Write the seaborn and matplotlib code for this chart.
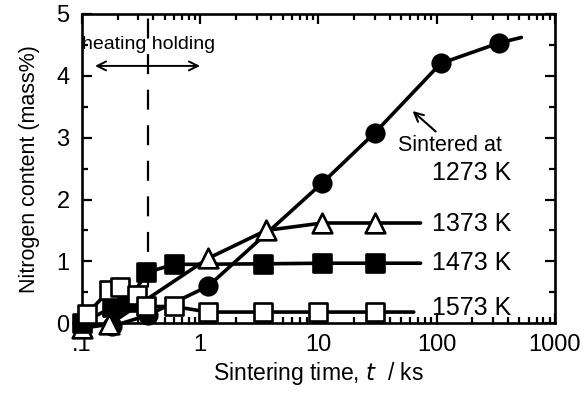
import numpy as np
import pandas as pd
import matplotlib
matplotlib.use("Agg")
import matplotlib.pyplot as plt
import seaborn as sns
from matplotlib.ticker import FixedLocator, FixedFormatter, LogLocator, NullFormatter, MultipleLocator

# ---- data ----
t_1273 = [0.1, 0.18, 0.36, 1.17, 10.8, 30, 108, 335]
n_1273 = [0.0, -0.05, 0.13, 0.6, 2.27, 3.08, 4.2, 4.53]
t_1373 = [0.1, 0.17, 1.17, 3.6, 10.8, 30]
n_1373 = [-0.08, -0.02, 1.05, 1.5, 1.62, 1.62]
t_1473 = [0.1, 0.18, 0.25, 0.35, 0.6, 3.4, 10.8, 30]
n_1473 = [0.0, 0.26, 0.35, 0.82, 0.95, 0.96, 0.97, 0.97]
t_1573 = [0.11, 0.17, 0.21, 0.29, 0.35, 0.6, 1.17, 3.4, 10, 30]
n_1573 = [0.15, 0.53, 0.58, 0.45, 0.27, 0.27, 0.18, 0.18, 0.18, 0.18]
# where each fitted curve ends beyond last marker
end_t = [520, 73, 73, 64]
end_n = [4.62, 1.62, 0.97, 0.18]
labels = ["1273 K", "1373 K", "1473 K", "1573 K"]
xticks = [0.1, 1, 10, 100, 1000]
xticklabels = [".1", "1", "10", "100", "1000"]
yticks = [0, 1, 2, 3, 4, 5]

sns.set_style("ticks")
plt.rcParams['font.family'] = ['Liberation Sans', 'DejaVu Sans']
plt.rcParams['text.color'] = 'black'
plt.rcParams['axes.labelcolor'] = 'black'
plt.rcParams['xtick.color'] = 'black'
plt.rcParams['ytick.color'] = 'black'
plt.rcParams['axes.edgecolor'] = 'black'

fig = plt.figure(figsize=(5.86, 3.99), dpi=100)
ax = fig.add_axes([0.140, 0.190, 0.807, 0.775])

series = [
    (t_1273, n_1273, 'o', 'black'),
    (t_1373, n_1373, '^', 'white'),
    (t_1473, n_1473, 's', 'black'),
    (t_1573, n_1573, 's', 'white'),
]
for i, (t, n, m, fc) in enumerate(series):
    sns.lineplot(x=list(t) + [end_t[i]], y=list(n) + [end_n[i]], ax=ax,
                 color='black', lw=2.6, sort=False, estimator=None, zorder=2,
                 clip_on=False)
    sns.scatterplot(x=t, y=n, ax=ax, marker=m, s=160 if m != '^' else 200,
                    facecolor=fc, edgecolor='black', linewidth=1.9, zorder=3,
                    clip_on=False)

ax.set_xscale('log')
ax.set_xlim(0.1, 1000)
ax.set_ylim(0, 5)
ax.xaxis.set_major_locator(FixedLocator(xticks))
ax.xaxis.set_major_formatter(FixedFormatter(xticklabels))
ax.xaxis.set_minor_locator(LogLocator(base=10, subs=np.arange(2, 10)))
ax.xaxis.set_minor_formatter(NullFormatter())
ax.yaxis.set_major_locator(FixedLocator(yticks))
ax.yaxis.set_minor_locator(MultipleLocator(0.5))
ax.tick_params(which='both', direction='in', top=True, right=True, width=1.6)
ax.tick_params(which='major', length=7, labelsize=17)
ax.tick_params(axis='x', which='major', pad=8)
ax.tick_params(axis='y', which='major', pad=9)
ax.tick_params(which='minor', length=4)
for s in ax.spines.values():
    s.set_linewidth(1.9)
    s.set_visible(True)

ax.set_xlabel("Sintering time, $\\mathit{t}$  / ks", fontsize=16.5, labelpad=3)
ax.set_ylabel("Nitrogen content (mass%)", fontsize=15.5, labelpad=12)

# dashed vertical line between heating and holding
ax.axvline(0.36, color='black', lw=1.6, dashes=(9, 7), zorder=1)
ax.text(0.1, 4.5, "heating holding", fontsize=14, ha='left', va='center')
ax.annotate("", xy=(0.122, 4.16), xytext=(1.05, 4.16),
            arrowprops=dict(arrowstyle='<->', color='black', lw=1.4,
                            mutation_scale=16))

ax.text(47, 2.88, "Sintered at", fontsize=15.5, ha='left', va='center')
ax.text(430, 2.43, "1273 K", fontsize=18, ha='right', va='center')
ax.annotate("", xy=(60, 3.46), xytext=(102, 3.07),
            arrowprops=dict(arrowstyle='->', color='black', lw=1.5,
                            mutation_scale=16))
ax.text(430, 1.6, "1373 K", fontsize=18, ha='right', va='center')
ax.text(430, 0.97, "1473 K", fontsize=18, ha='right', va='center')
ax.text(430, 0.25, "1573 K", fontsize=18, ha='right', va='center')

fig.savefig("out.png", dpi=100)
